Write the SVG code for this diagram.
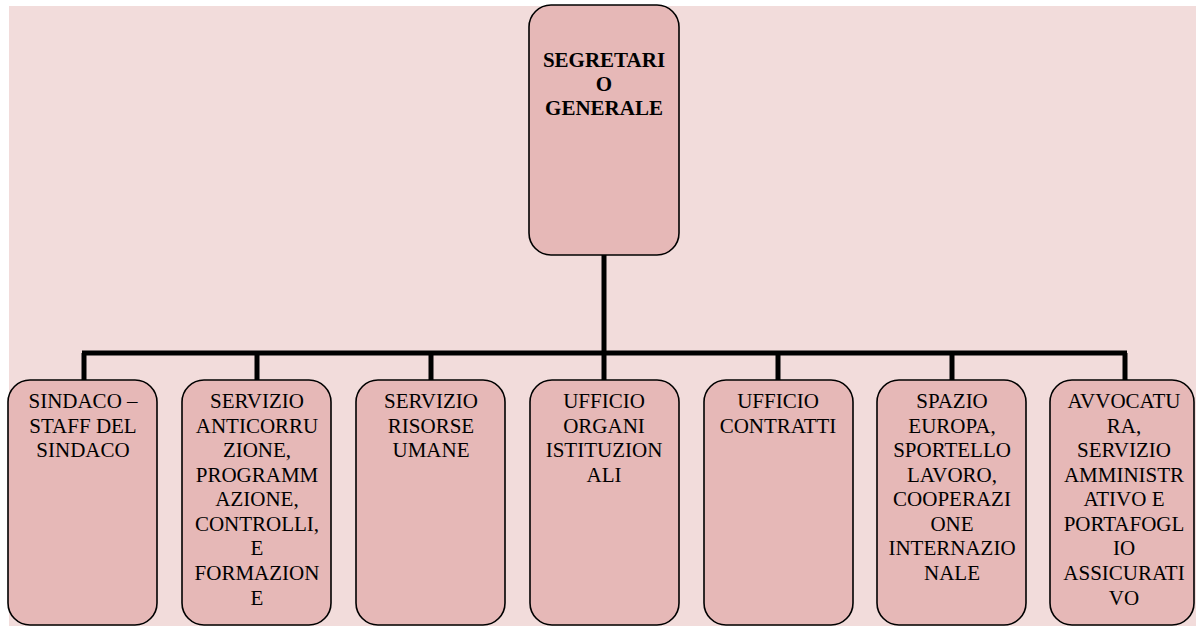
<svg xmlns="http://www.w3.org/2000/svg" width="1196" height="626" viewBox="0 0 1196 626">
<style>
.box{fill:#E6B8B7;stroke:#000;stroke-width:1.6}
.t{font-family:'Liberation Serif','Tinos','Times New Roman','DejaVu Serif',serif;font-size:21px;fill:#000;text-anchor:middle}
.b{font-weight:bold}
.c{stroke:#000;stroke-width:5;fill:none}
</style>
<rect x="9" y="6" width="1187" height="620" fill="#F2DCDB"/>
<g id="connectors">
<line class="c" x1="604" y1="255" x2="604" y2="353"/>
<line class="c" x1="82" y1="353" x2="1127" y2="353"/>
<line class="c" x1="84" y1="353" x2="84" y2="380"/>
<line class="c" x1="257" y1="353" x2="257" y2="380"/>
<line class="c" x1="431" y1="353" x2="431" y2="380"/>
<line class="c" x1="604" y1="353" x2="604" y2="380"/>
<line class="c" x1="778" y1="353" x2="778" y2="380"/>
<line class="c" x1="952" y1="353" x2="952" y2="380"/>
<line class="c" x1="1125" y1="353" x2="1125" y2="380"/>
</g>
<g id="segretario">
<rect class="box" x="529" y="5" width="150" height="250" rx="22"/>
<text class="t b" x="604" y="67">SEGRETARI</text>
<text class="t b" x="604" y="91">O</text>
<text class="t b" x="604" y="115">GENERALE</text>
</g>
<g id="sindaco">
<rect class="box" x="8" y="380" width="149" height="245" rx="22"/>
<text class="t" x="83" y="408">SINDACO –</text>
<text class="t" x="83" y="433">STAFF DEL</text>
<text class="t" x="83" y="457">SINDACO</text>
</g>
<g id="anticorruzione">
<rect class="box" x="182" y="380" width="149" height="245" rx="22"/>
<text class="t" x="257" y="408">SERVIZIO</text>
<text class="t" x="257" y="433">ANTICORRU</text>
<text class="t" x="257" y="457">ZIONE,</text>
<text class="t" x="257" y="482">PROGRAMM</text>
<text class="t" x="257" y="506">AZIONE,</text>
<text class="t" x="257" y="531">CONTROLLI,</text>
<text class="t" x="257" y="555">E</text>
<text class="t" x="257" y="580">FORMAZION</text>
<text class="t" x="257" y="605">E</text>
</g>
<g id="risorse">
<rect class="box" x="356" y="380" width="149" height="245" rx="22"/>
<text class="t" x="431" y="408">SERVIZIO</text>
<text class="t" x="431" y="433">RISORSE</text>
<text class="t" x="431" y="457">UMANE</text>
</g>
<g id="organi">
<rect class="box" x="530" y="380" width="149" height="245" rx="22"/>
<text class="t" x="604" y="408">UFFICIO</text>
<text class="t" x="604" y="433">ORGANI</text>
<text class="t" x="604" y="457">ISTITUZION</text>
<text class="t" x="604" y="482">ALI</text>
</g>
<g id="contratti">
<rect class="box" x="704" y="380" width="149" height="245" rx="22"/>
<text class="t" x="778" y="408">UFFICIO</text>
<text class="t" x="778" y="433">CONTRATTI</text>
</g>
<g id="europa">
<rect class="box" x="877" y="380" width="149" height="245" rx="22"/>
<text class="t" x="952" y="408">SPAZIO</text>
<text class="t" x="952" y="433">EUROPA,</text>
<text class="t" x="952" y="457">SPORTELLO</text>
<text class="t" x="952" y="482">LAVORO,</text>
<text class="t" x="952" y="506">COOPERAZI</text>
<text class="t" x="952" y="531">ONE</text>
<text class="t" x="952" y="555">INTERNAZIO</text>
<text class="t" x="952" y="580">NALE</text>
</g>
<g id="avvocatura">
<rect class="box" x="1050" y="380" width="144" height="245" rx="22"/>
<text class="t" x="1124" y="408">AVVOCATU</text>
<text class="t" x="1124" y="433">RA,</text>
<text class="t" x="1124" y="457">SERVIZIO</text>
<text class="t" x="1124" y="482">AMMINISTR</text>
<text class="t" x="1124" y="506">ATIVO E</text>
<text class="t" x="1124" y="531">PORTAFOGL</text>
<text class="t" x="1124" y="555">IO</text>
<text class="t" x="1124" y="580">ASSICURATI</text>
<text class="t" x="1124" y="605">VO</text>
</g>
</svg>
